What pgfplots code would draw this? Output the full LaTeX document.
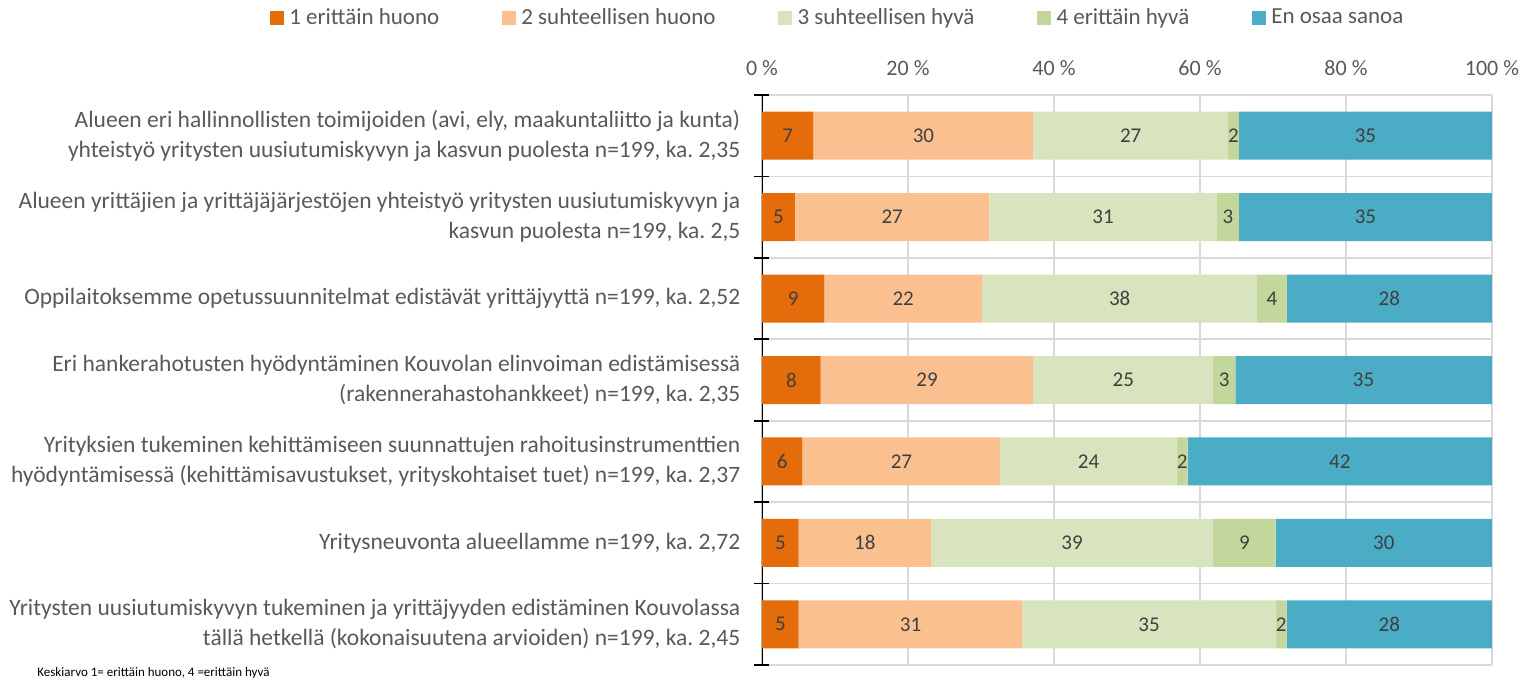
\documentclass[border=0pt]{standalone}
\usepackage{fontspec}
\setmainfont{Carlito}
\usepackage{pgfplots}
\usepackage{pgfplotstable}
\pgfplotsset{compat=1.18, /pgf/number format/assume math mode=true}
\definecolor{c1}{HTML}{E46C0A}
\definecolor{c2}{HTML}{FAC090}
\definecolor{c3}{HTML}{D7E4BD}
\definecolor{c4}{HTML}{C3D69B}
\definecolor{c5}{HTML}{4BACC6}
\definecolor{txt}{HTML}{595959}
\definecolor{lblc}{HTML}{404040}
\definecolor{grd}{HTML}{D9D9D9}
\pgfplotstableread{
y a b c d e
1 7.04 30.15 26.63 1.51 34.67
2 4.52 26.63 31.16 3.02 34.67
3 8.54 21.61 37.69 4.02 28.14
4 8.04 29.15 24.62 3.02 35.17
5 5.53 27.14 24.12 1.51 41.70
6 5.03 18.09 38.69 8.54 29.65
7 5.03 30.65 34.67 1.51 28.14
}\datatable
\frenchspacing
\begin{document}
\begin{tikzpicture}
\useasboundingbox (0,0) rectangle (761.5pt,340pt);
\begin{axis}[
  at={(381pt,7.5pt)}, anchor=south west,
  scale only axis, width=365pt, height=285pt,
  xbar stacked, bar width=24pt,
  xmin=0, xmax=100, ymin=0.5, ymax=7.5, y dir=reverse,
  axis x line*=top, axis y line*=left,
  x axis line style={draw=none},
  y axis line style={draw=none},
  xtick={0,20,...,100},
  xticklabel={\pgfmathprintnumber{\tick}~\%},
  xticklabel style={text=txt, font=\fontsize{11}{13}\selectfont, anchor=base, inner sep=0pt, yshift=7.5pt},
  xmajorgrids, major grid style={grd, line width=0.8pt},
  major x tick style={draw=none},
  ytick={1,...,7},
  yticklabels={
    {Alueen eri hallinnollisten toimijoiden (avi, ely, maakuntaliitto ja kunta)\\yhteistyö yritysten uusiutumiskyvyn ja kasvun puolesta n=199, ka. 2,35},
    {Alueen yrittäjien ja yrittäjäjärjestöjen yhteistyö yritysten uusiutumiskyvyn ja\\kasvun puolesta n=199, ka. 2,5},
    {Oppilaitoksemme opetussuunnitelmat edistävät yrittäjyyttä n=199, ka. 2,52},
    {Eri hankerahotusten hyödyntäminen Kouvolan elinvoiman edistämisessä\\(rakennerahastohankkeet) n=199, ka. 2,35},
    {Yrityksien tukeminen kehittämiseen suunnattujen rahoitusinstrumenttien\\hyödyntämisessä (kehittämisavustukset, yrityskohtaiset tuet) n=199, ka. 2,37},
    {Yritysneuvonta alueellamme n=199, ka. 2,72},
    {Yritysten uusiutumiskyvyn tukeminen ja yrittäjyyden edistäminen Kouvolassa\\tällä hetkellä (kokonaisuutena arvioiden) n=199, ka. 2,45}},
  yticklabel style={align=right, text=txt, font=\fontsize{11.75}{15}\selectfont, inner sep=0pt, xshift=-8.5pt},
  major y tick style={draw=none},
  minor ytick={0.5,1.5,...,7.5},
  yminorgrids, minor grid style={grd, line width=0.8pt},
  minor y tick style={black, line width=0.8pt},
  minor tick length=7.5pt,
  tick align=center,
  legend columns=5,
  legend style={draw=none, at={(0.106,1.135)}, anchor=center,
    font=\fontsize{11.5}{13}\selectfont, text=txt,
    nodes={inner sep=2.75pt},
    /tikz/every even column/.append style={column sep=28.5pt}},
  legend image code/.code={\fill[#1] (0pt,-3.5pt) rectangle (7pt,3.5pt);},
]
\addplot[fill=c1, draw=none] table[x=a, y=y] \datatable;
\addplot[fill=c2, draw=none] table[x=b, y=y] \datatable;
\addplot[fill=c3, draw=none] table[x=c, y=y] \datatable;
\addplot[fill=c4, draw=none] table[x=d, y=y] \datatable;
\addplot[fill=c5, draw=none] table[x=e, y=y] \datatable;
\legend{1 erittäin huono, 2 suhteellisen huono, 3 suhteellisen hyvä, 4 erittäin hyvä, En osaa sanoa}
\draw[black, line width=0.8pt] (rel axis cs:0,0) -- (rel axis cs:0,1);
\end{axis}
\begin{axis}[
  at={(381pt,7.5pt)}, anchor=south west,
  scale only axis, width=365pt, height=285pt,
  xmin=0, xmax=100, ymin=0.5, ymax=7.5, y dir=reverse,
  hide axis, clip=false,
  seglabel/.style={scatter, only marks, mark=*, mark size=0pt,
    mark options={draw=none, fill=none}, point meta=explicit,
    scatter/@pre marker code/.code={\node[font=\fontsize{10.5}{12}\selectfont, text=lblc, inner sep=0pt]
      {\pgfmathprintnumber[fixed,precision=0]{\pgfplotspointmeta}};},
    scatter/@post marker code/.code={}},
]
\addplot[seglabel] table[x expr={0.5*\thisrow{a}}, y=y, meta=a] \datatable;
\addplot[seglabel] table[x expr={\thisrow{a}+0.5*\thisrow{b}}, y=y, meta=b] \datatable;
\addplot[seglabel] table[x expr={\thisrow{a}+\thisrow{b}+0.5*\thisrow{c}}, y=y, meta=c] \datatable;
\addplot[seglabel] table[x expr={\thisrow{a}+\thisrow{b}+\thisrow{c}+0.5*\thisrow{d}}, y=y, meta=d] \datatable;
\addplot[seglabel] table[x expr={\thisrow{a}+\thisrow{b}+\thisrow{c}+\thisrow{d}+0.5*\thisrow{e}}, y=y, meta=e] \datatable;
\end{axis}
\node[anchor=west, inner sep=0pt, font=\fontsize{6.5}{8}\selectfont] at (18.5pt,3.5pt) {Keskiarvo 1= erittäin huono, 4 =erittäin hyvä};
\end{tikzpicture}
\end{document}
